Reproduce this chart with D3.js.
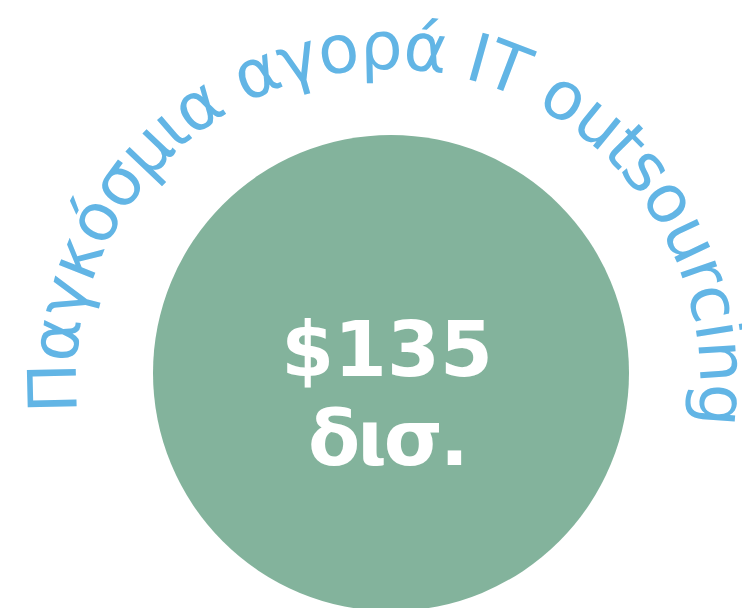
<!DOCTYPE html>
<html>
<head>
<meta charset="utf-8">
<script src="https://cdn.jsdelivr.net/npm/d3@7"></script>
<style>
  html, body { margin: 0; padding: 0; background: #fff; }
  svg { display: block; }
</style>
</head>
<body>
<div id="chart"></div>
<script>
// chart data
const title = "Παγκόσμια αγορά IT outsourcing"
const values = [135]
const valueLines = ["$135", "δισ."]

const width = 742
const height = 608
const cx = 391, cy = 373

const svg = d3.select("#chart")
    .append("svg")
    .attr("width", width)
    .attr("height", height)

const rScale = d3.scaleSqrt()
    .domain([0, d3.max(values)])
    .range([0, 238])

svg.selectAll("circle.bubble")
    .data(values)
    .join("circle")
    .attr("class", "bubble")
    .attr("cx", cx)
    .attr("cy", cy)
    .attr("r", d => rScale(d))
    .attr("fill", "#83b39c")

// arc for the title (baseline), a bit off the bubble centre
const ax = 388, ay = 381, arcR = 312
const startA = -95.8 * Math.PI / 180
const endA = 97.7 * Math.PI / 180
const pt = a => [ax + arcR * Math.sin(a), ay - arcR * Math.cos(a)]
const p0 = pt(startA), p1 = pt(endA)

svg.append("defs").append("path")
    .attr("id", "titleArc")
    .attr("d", `M${p0[0]},${p0[1]} A${arcR},${arcR} 0 1 1 ${p1[0]},${p1[1]}`)

const titleText = svg.append("text")
    .attr("fill", "#62b5e5")
    .style("font-family", "Verdana, 'DejaVu Sans', sans-serif")
    .style("font-size", "67px")

const tp = titleText.append("textPath")
    .attr("href", "#titleArc")
    .attr("startOffset", "0%")
    .text(title)

// tighten letter spacing so the title fills the arc
const arcLen = arcR * (endA - startA)
const measured = tp.node().getComputedTextLength()
titleText.style("letter-spacing", ((arcLen - measured) / title.length) + "px")

svg.append("text")
    .attr("text-anchor", "middle")
    .attr("fill", "#fff")
    .style("font-family", "'DejaVu Sans', sans-serif")
    .style("font-weight", "bold")
    .style("font-size", "76px")
    .selectAll("tspan")
    .data(valueLines)
    .join("tspan")
    .attr("x", 387)
    .attr("y", (d, i) => 376 + i * 89)
    .style("letter-spacing", (d, i) => i ? "-3px" : "0px")
    .text(d => d)
</script>
</body>
</html>
